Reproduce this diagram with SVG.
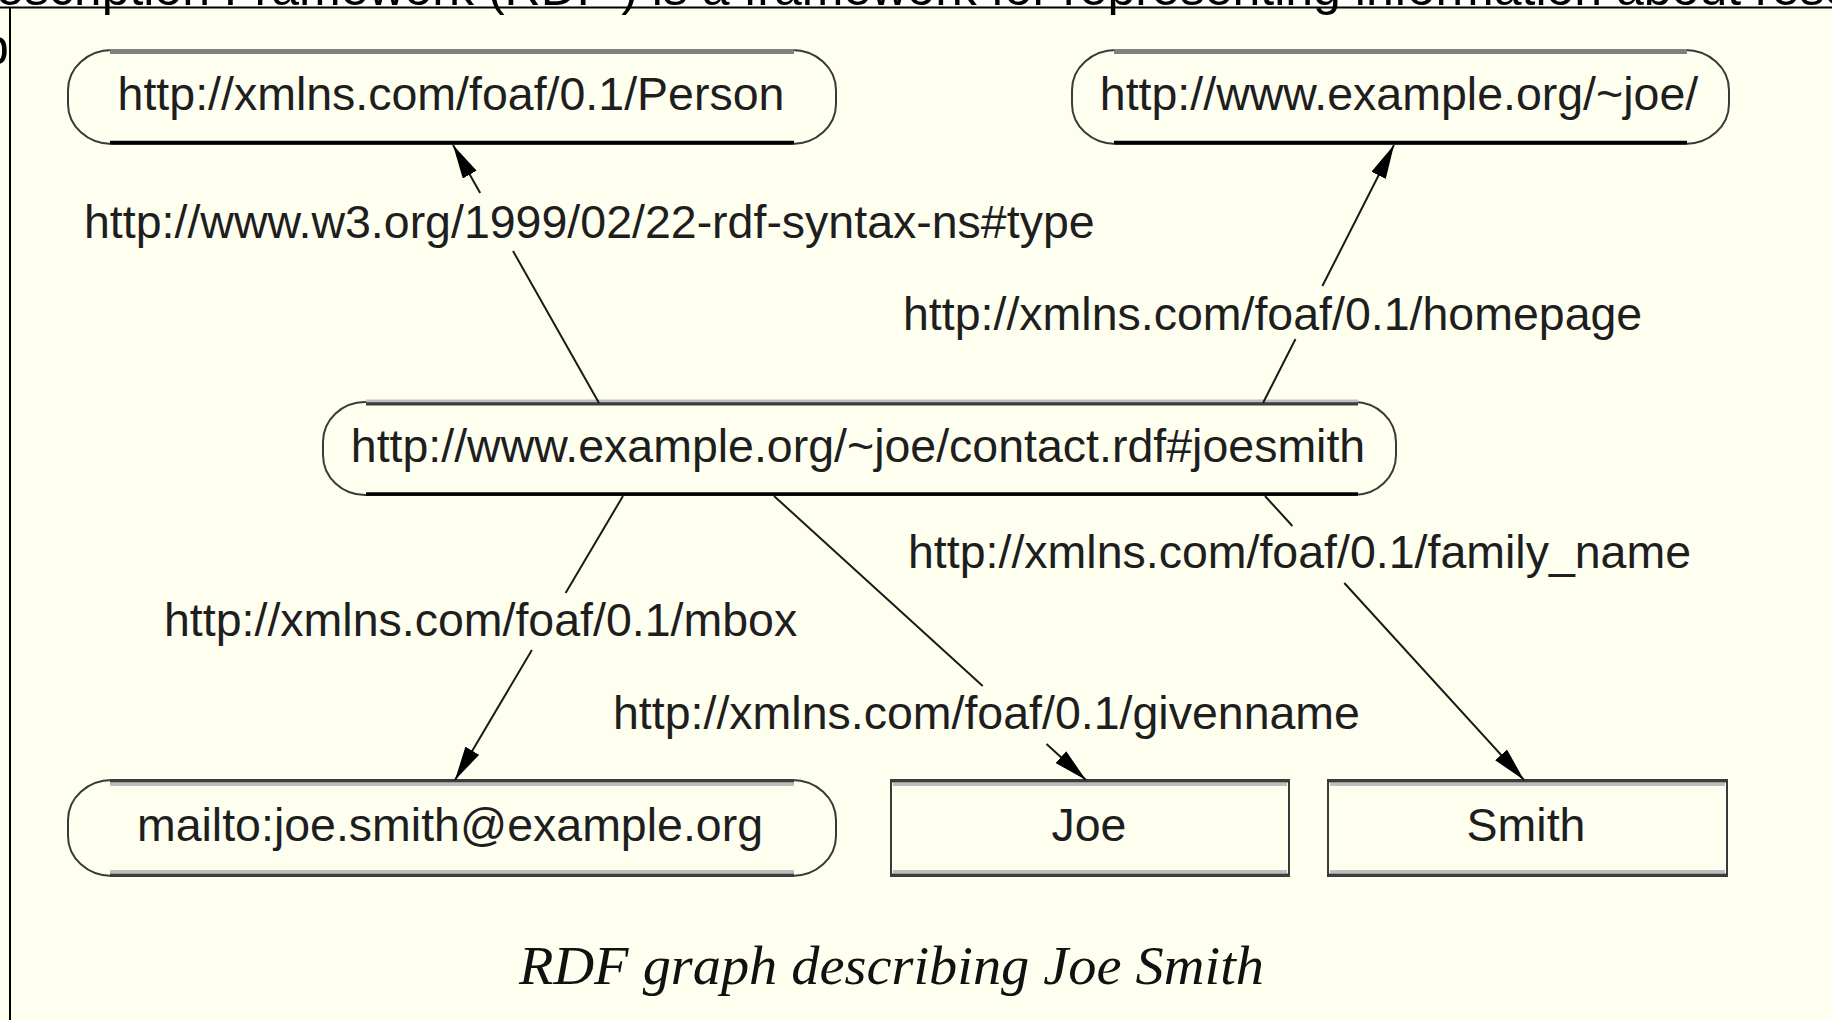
<svg xmlns="http://www.w3.org/2000/svg" width="1832" height="1020" viewBox="0 0 1832 1020">
  <style>
    .page{fill:#fffff0}
    .node{fill:#fffff0;stroke:#3a3a3a;stroke-width:2}
    .t{font-family:"Liberation Sans",Arial,sans-serif;font-size:46.5px;fill:#1e1e1e}
    .mid{text-anchor:middle}
    .edge{fill:none;stroke:#1a1a1a;stroke-width:2}
    .hl{stroke:#808080;stroke-width:5}
    .dk{stroke:#000;stroke-width:3.5}
    .lt{stroke:#bdbdbd;stroke-width:3}
    .md{stroke:#3c3c3c;stroke-width:3}
    .cap{font-family:"Liberation Serif","Times New Roman",serif;font-style:italic;font-size:54px;fill:#111}
    .body{font-family:"Liberation Sans",Arial,sans-serif;font-size:50px;fill:#000}
  </style>
  <defs>
    <marker id="arrow" markerUnits="userSpaceOnUse" viewBox="0 0 34 16" refX="34" refY="8" markerWidth="34" markerHeight="16" orient="auto">
      <path d="M0,0 L34,8 L0,16 Z" fill="#000"/>
    </marker>
  </defs>

  <!-- page background and figure frame -->
  <rect class="page" x="0" y="0" width="1832" height="1020"/>
  <rect x="0" y="0" width="1832" height="7" fill="#fff"/>
  <text class="body" x="-40" y="5">Description Framework (RDF ) is a framework for representing information about resources</text>
  <text class="body" x="-19" y="64">p</text>
  <line x1="0" y1="7.5" x2="1832" y2="7.5" stroke="#000" stroke-width="2"/>
  <line x1="10" y1="7" x2="10" y2="1020" stroke="#000" stroke-width="2"/>

  <!-- nodes -->
  <g id="person">
    <rect class="node" x="68" y="50" width="768" height="94" rx="44" ry="40"/>
    <line class="hl" x1="110" y1="51.5" x2="794" y2="51.5"/>
    <line class="dk" x1="110" y1="142.5" x2="794" y2="142.5"/>
    <text class="t mid" x="451" y="110">http://xmlns.com/foaf/0.1/Person</text>
  </g>

  <g id="homepage">
    <rect class="node" x="1072" y="50" width="657" height="94" rx="44" ry="40"/>
    <line class="hl" x1="1114" y1="51.5" x2="1687" y2="51.5"/>
    <line class="dk" x1="1114" y1="142.5" x2="1687" y2="142.5"/>
    <text class="t mid" x="1399" y="110">http://www.example.org/~joe/</text>
  </g>

  <g id="joesmith">
    <rect class="node" x="323" y="402" width="1073" height="93" rx="42" ry="40"/>
    <line class="lt" x1="366" y1="401" x2="1358" y2="401"/>
    <line class="md" x1="366" y1="404" x2="1358" y2="404"/>
    <line class="dk" x1="366" y1="494" x2="1358" y2="494"/>
    <text class="t mid" x="858" y="462">http://www.example.org/~joe/contact.rdf#joesmith</text>
  </g>

  <g id="mbox">
    <rect class="node" x="68" y="780" width="768" height="96" rx="44" ry="40"/>
    <line class="md" x1="110" y1="781" x2="794" y2="781"/>
    <line class="lt" x1="110" y1="784.5" x2="794" y2="784.5"/>
    <line class="lt" x1="110" y1="871.5" x2="794" y2="871.5"/>
    <line class="md" x1="110" y1="875" x2="794" y2="875"/>
    <text class="t mid" x="450" y="841">mailto:joe.smith@example.org</text>
  </g>

  <g id="givenname">
    <rect class="node" x="891" y="780" width="398" height="96" stroke-width="2.5"/>
    <line class="md" x1="891" y1="781" x2="1289" y2="781"/>
    <line class="lt" x1="893" y1="784.5" x2="1287" y2="784.5"/>
    <line class="lt" x1="893" y1="871.5" x2="1287" y2="871.5"/>
    <line class="md" x1="891" y1="875" x2="1289" y2="875"/>
    <text class="t mid" x="1089" y="841">Joe</text>
  </g>

  <g id="family_name">
    <rect class="node" x="1328" y="780" width="399" height="96" stroke-width="2.5"/>
    <line class="md" x1="1328" y1="781" x2="1727" y2="781"/>
    <line class="lt" x1="1330" y1="784.5" x2="1725" y2="784.5"/>
    <line class="lt" x1="1330" y1="871.5" x2="1725" y2="871.5"/>
    <line class="md" x1="1328" y1="875" x2="1727" y2="875"/>
    <text class="t mid" x="1526" y="841">Smith</text>
  </g>

  <!-- connectors: each line breaks around its property label -->
  <g id="connectors">
    <path class="edge" d="M599,403 L513,251 M480.2,193 L453,145" marker-end="url(#arrow)"/>
    <text class="t" x="84" y="238">http://www.w3.org/1999/02/22-rdf-syntax-ns#type</text>

    <path class="edge" d="M1263,403 L1295.5,339 M1322.4,286 L1394,145" marker-end="url(#arrow)"/>
    <text class="t" x="903" y="330">http://xmlns.com/foaf/0.1/homepage</text>

    <path class="edge" d="M623,496 L565.6,593 M531.9,650 L455,780" marker-end="url(#arrow)"/>
    <text class="t" x="164" y="636">http://xmlns.com/foaf/0.1/mbox</text>

    <path class="edge" d="M774,496 L982.7,686 M1046.5,744 L1086,780" marker-end="url(#arrow)"/>
    <text class="t" x="613" y="729">http://xmlns.com/foaf/0.1/givenname</text>

    <path class="edge" d="M1265,496 L1292.4,526 M1344.3,583 L1524,780" marker-end="url(#arrow)"/>
    <text class="t" x="908" y="568">http://xmlns.com/foaf/0.1/family_name</text>
  </g>

  <!-- caption -->
  <text class="cap" x="519" y="984" textLength="745" lengthAdjust="spacingAndGlyphs">RDF graph describing Joe Smith</text>
</svg>
